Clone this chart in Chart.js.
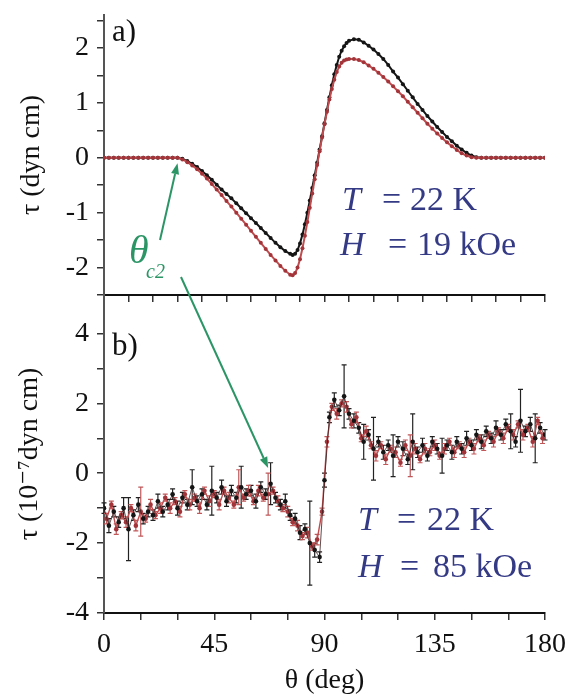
<!DOCTYPE html>
<html>
<head>
<meta charset="utf-8">
<script src="https://cdn.jsdelivr.net/npm/chart.js@4.4.1/dist/chart.umd.min.js"></script>
<style>
  body { margin: 0; background: #fff; }
  #wrap { position: relative; width: 568px; height: 700px; }
  canvas { position: absolute; left: 0; top: 0; }
</style>
</head>
<body>
<div id="wrap">
  <canvas id="topChart" width="568" height="700"></canvas>
  <canvas id="bottomChart" width="568" height="700"></canvas>
</div>
<script>
const serif = '"Liberation Serif", "DejaVu Serif", serif';
Chart.defaults.font.family = serif;
Chart.defaults.color = '#111';

// ---- panel a) : torque at 19 kOe ----
const topTheta = [0, 2, 4, 6, 8, 10, 12, 14, 16, 18, 20, 22, 24, 26, 28, 30,
  32, 34, 36, 38, 40, 42, 44, 46, 48, 50, 52, 54, 56, 58, 60, 62, 64, 66, 68, 70, 72, 74, 76,
  77, 78, 79, 80, 81, 82, 83, 84, 85, 86, 87, 88, 89, 90, 91, 92, 93, 94, 95, 96, 97, 98, 99, 100,
  102, 104, 106, 108, 110, 112, 114, 116, 118, 120, 122, 124, 126, 128, 130, 132, 134, 136, 138, 140,
  142, 144, 146, 148, 150, 152, 154, 156, 158, 160, 162, 164, 166, 168, 170, 172, 174, 176, 178, 180];
const topBlack = [0, 0, 0, 0, 0, 0, 0, 0, 0, 0, 0, 0, 0, 0, 0, 0,
  -0.02, -0.06, -0.11, -0.17, -0.24, -0.32, -0.40, -0.49, -0.58, -0.66, -0.74, -0.83, -0.92, -1.01, -1.10, -1.19, -1.28, -1.37, -1.46, -1.55, -1.63, -1.70, -1.75,
  -1.77, -1.75, -1.68, -1.56, -1.40, -1.21, -1.00, -0.78, -0.55, -0.32, -0.09, 0.15, 0.39, 0.63, 0.87, 1.10, 1.32, 1.52, 1.69, 1.84, 1.95, 2.03, 2.09, 2.13,
  2.16, 2.15, 2.10, 2.04, 1.97, 1.89, 1.80, 1.69, 1.57, 1.46, 1.34, 1.22, 1.10, 0.98, 0.87, 0.76, 0.66, 0.56, 0.47, 0.38,
  0.30, 0.22, 0.15, 0.09, 0.04, 0.01, 0, 0, 0, 0, 0, 0, 0, 0, 0, 0, 0, 0, 0, 0];
const topRed = [0, 0, 0, 0, 0, 0, 0, 0, 0, 0, 0, 0, 0, 0, 0, 0,
  -0.03, -0.08, -0.14, -0.21, -0.29, -0.38, -0.48, -0.58, -0.68, -0.79, -0.89, -1.00, -1.11, -1.22, -1.33, -1.44, -1.55, -1.66, -1.77, -1.87, -1.97, -2.06, -2.13,
  -2.14, -2.10, -2.00, -1.85, -1.65, -1.42, -1.17, -0.91, -0.65, -0.39, -0.13, 0.12, 0.37, 0.61, 0.84, 1.06, 1.25, 1.42, 1.56, 1.66, 1.73, 1.77, 1.79, 1.80,
  1.80, 1.78, 1.74, 1.68, 1.62, 1.55, 1.47, 1.39, 1.30, 1.21, 1.12, 1.02, 0.92, 0.82, 0.72, 0.62, 0.53, 0.44, 0.36, 0.28,
  0.21, 0.14, 0.08, 0.04, 0.01, 0, 0, 0, 0, 0, 0, 0, 0, 0, 0, 0, 0, 0, 0, 0];

// ---- panel b) : torque at 85 kOe (10^-7 dyn cm) ----
const botThetaBlack = [0, 2, 4, 6, 8, 10, 12, 14, 16, 18, 20, 22, 24, 26, 28, 30, 32, 34, 36, 38,
  40, 42, 44, 46, 48, 50, 52, 54, 56, 58, 60, 62, 64, 66, 68, 70, 72, 74, 76, 78,
  80, 82, 84, 86, 88, 90, 92, 94, 96, 98, 100, 102, 104, 106, 108, 110, 112, 114, 116, 118,
  120, 122, 124, 126, 128, 130, 132, 134, 136, 138, 140, 142, 144, 146, 148, 150, 152, 154, 156, 158,
  160, 162, 164, 166, 168, 170, 172, 174, 176, 178, 180];
const botBlack = [-1.0, -1.5, -1.1, -1.4, -1.0, -1.6, -1.2, -0.9, -1.3, -1.1,
  -1.2, -0.8, -1.1, -0.9, -0.6, -1.0, -0.7, -0.9, -0.4, -0.8,
  -0.6, -0.9, -0.5, -0.7, -0.4, -0.8, -0.5, -0.7, -0.4, -0.6,
  -0.5, -0.8, -0.4, -0.6, -0.3, -0.7, -0.9, -0.8, -1.2, -1.3,
  -1.7, -1.6, -2.0, -2.2, -2.4, -0.2, 1.6, 2.1, 1.8, 2.2,
  1.7, 1.5, 1.3, 0.9, 1.1, 0.7, 0.9, 0.6, 0.8, 0.5,
  0.9, 0.7, 0.4, 0.9, 0.6, 0.8, 0.5, 0.9, 0.7, 0.5,
  0.8, 0.6, 0.9, 0.7, 1.0, 0.8, 1.1, 0.9, 1.2, 1.0,
  1.3, 1.1, 1.4, 1.2, 0.9, 1.5, 1.2, 1.4, 1.0, 1.3, 1.1];
const botBlackErr = [0.15, 0.2, 0.15, 0.15, 0.3, 0.9, 0.15, 0.2, 0.15, 0.15,
  0.15, 0.2, 0.15, 0.15, 0.15, 0.2, 0.15, 0.15, 0.5, 0.15,
  0.15, 0.15, 0.7, 0.15, 0.2, 0.15, 0.15, 0.15, 0.6, 0.15,
  0.15, 0.2, 0.15, 0.15, 0.6, 0.15, 0.15, 0.2, 0.15, 0.15,
  0.2, 0.15, 1.2, 0.2, 0.15, 0.2, 0.15, 0.2, 0.15, 0.9,
  0.15, 0.2, 0.15, 0.5, 0.15, 0.9, 0.15, 0.2, 0.15, 0.6,
  0.15, 0.2, 0.15, 0.8, 0.15, 0.2, 0.15, 0.15, 0.15, 0.5,
  0.15, 0.2, 0.15, 0.15, 0.2, 0.15, 0.15, 0.2, 0.15, 0.15,
  0.2, 0.15, 0.15, 0.5, 0.15, 0.9, 0.15, 0.2, 0.7, 0.15, 0.15];
const botThetaRed = [1, 3, 5, 7, 9, 11, 13, 15, 17, 19, 21, 23, 25, 27, 29, 31, 33, 35, 37, 39,
  41, 43, 45, 47, 49, 51, 53, 55, 57, 59, 61, 63, 65, 67, 69, 71, 73, 75, 77, 79,
  81, 83, 85, 87, 89, 91, 93, 95, 97, 99, 101, 103, 105, 107, 109, 111, 113, 115, 117, 119,
  121, 123, 125, 127, 129, 131, 133, 135, 137, 139, 141, 143, 145, 147, 149, 151, 153, 155, 157, 159,
  161, 163, 165, 167, 169, 171, 173, 175, 177, 179];
const botRed = [-1.3, -0.9, -1.6, -1.2, -1.4, -1.0, -1.5, -1.1, -1.3, -0.9,
  -1.2, -1.0, -0.7, -1.0, -0.8, -1.1, -0.6, -0.9, -0.7, -1.0,
  -0.5, -0.8, -0.6, -0.9, -0.5, -0.7, -0.9, -0.4, -0.7, -0.5,
  -0.8, -0.5, -0.7, -0.6, -0.5, -0.8, -1.0, -1.1, -1.4, -1.5,
  -1.8, -1.7, -2.1, -1.9, -1.1, 0.9, 1.9, 1.7, 2.0, 1.9,
  1.4, 1.6, 1.0, 1.2, 0.8, 0.5, 0.8, 0.4, 0.7, 0.6,
  0.3, 0.8, 0.5, 0.7, 0.4, 0.7, 0.6, 0.8, 0.5, 0.7,
  0.9, 0.6, 0.8, 0.6, 0.9, 0.7, 1.0, 0.8, 1.1, 0.9,
  1.2, 1.0, 1.3, 1.1, 1.4, 1.1, 1.3, 0.9, 1.5, 1.0];
const botRedErr = [0.15, 0.1, 0.15, 0.1, 0.15, 0.1, 0.15, 0.7, 0.1, 0.15,
  0.1, 0.15, 0.1, 0.15, 0.1, 0.15, 0.1, 0.15, 0.1, 0.15,
  0.1, 0.15, 0.1, 0.15, 0.1, 0.15, 0.1, 0.5, 0.1, 0.15,
  0.1, 0.15, 0.1, 0.6, 0.1, 0.15, 0.1, 0.15, 0.1, 0.15,
  0.1, 0.15, 0.1, 0.15, 0.1, 0.15, 0.1, 0.15, 0.1, 0.15,
  0.1, 0.15, 0.1, 0.15, 0.1, 0.15, 0.1, 0.15, 0.1, 0.15,
  0.1, 0.15, 0.6, 0.15, 0.1, 0.15, 0.1, 0.15, 0.1, 0.15,
  0.1, 0.15, 0.1, 0.15, 0.1, 0.15, 0.1, 0.15, 0.1, 0.15,
  0.1, 0.15, 0.1, 0.15, 0.1, 0.15, 0.1, 0.15, 0.1, 0.15];

// ---- axis ticks ----
const topXTicks = [0, 10, 20, 30, 40, 50, 60, 70, 80, 90, 100, 110, 120, 130, 140, 150, 160, 170, 180];
const topYTicks = [-2.5, -2, -1.5, -1, -0.5, 0, 0.5, 1, 1.5, 2, 2.5];
const botXTicks = [0, 15, 30, 45, 60, 75, 90, 105, 120, 135, 150, 165, 180];
const botXLabels = [0, 45, 90, 135, 180];
const botYTicks = [-4, -3, -2, -1, 0, 1, 2, 3, 4];

const toPoints = (xs, ys) => xs.map((x, i) => ({ x: x, y: ys[i] }));
const fixWidth = w => s => { s.width = w; s.paddingTop = 0; s.paddingBottom = 0; };
const fixHeight = h => s => { s.height = h; s.paddingLeft = 0; s.paddingRight = 0; };
const setTicks = vals => s => { s.ticks = vals.map(v => ({ value: v })); };

const redDot = '#a3353a';
const redLine = '#bf4d4f';
const blackDot = '#151515';
const noteBlue = '#353a85';
const noteGreen = '#2c9566';

const tickGrid = { drawOnChartArea: false, tickLength: 7, color: '#333', lineWidth: 1.5 };

// vertical error bars, drawn under the points
const errorBars = {
  id: 'errorBars',
  beforeDatasetsDraw(chart) {
    const ctx = chart.ctx;
    const yScale = chart.scales.y;
    chart.data.datasets.forEach((ds, i) => {
      if (!ds.errors) return;
      const meta = chart.getDatasetMeta(i);
      ctx.save();
      ctx.strokeStyle = ds.errorColor;
      ctx.lineWidth = 1.2;
      ctx.beginPath();
      meta.data.forEach((pt, j) => {
        const v = ds.data[j].y;
        const e = ds.errors[j];
        const yTop = yScale.getPixelForValue(v + e);
        const yBot = yScale.getPixelForValue(v - e);
        ctx.moveTo(pt.x, yTop); ctx.lineTo(pt.x, yBot);
        ctx.moveTo(pt.x - 2.5, yTop); ctx.lineTo(pt.x + 2.5, yTop);
        ctx.moveTo(pt.x - 2.5, yBot); ctx.lineTo(pt.x + 2.5, yBot);
      });
      ctx.stroke();
      ctx.restore();
    });
  }
};

function arrow(ctx, x0, y0, x1, y1) {
  const a = Math.atan2(y1 - y0, x1 - x0);
  const len = 11, half = 4;
  const c = Math.cos(a), s = Math.sin(a);
  ctx.beginPath();
  ctx.moveTo(x0, y0);
  ctx.lineTo(x1 - len * c, y1 - len * s);
  ctx.stroke();
  ctx.beginPath();
  ctx.moveTo(x1, y1);
  ctx.lineTo(x1 - len * c + half * s, y1 - len * s - half * c);
  ctx.lineTo(x1 - len * c - half * s, y1 - len * s + half * c);
  ctx.closePath();
  ctx.fill();
}

function paramLine(ctx, x, y, sym, val, eqOff, valOff) {
  ctx.font = 'italic 34px ' + serif;
  ctx.fillText(sym, x, y);
  ctx.font = '34px ' + serif;
  ctx.fillText('=', x + eqOff, y);
  ctx.fillText(val, x + valOff, y);
}

const topChart = new Chart(document.getElementById('topChart'), {
  type: 'scatter',
  data: {
    datasets: [
      { data: toPoints(topTheta, topRed), showLine: true, borderColor: redLine, borderWidth: 2,
        pointRadius: 2, pointBackgroundColor: redDot, pointBorderWidth: 0 },
      { data: toPoints(topTheta, topBlack), showLine: true, borderColor: blackDot, borderWidth: 2,
        pointRadius: 2, pointBackgroundColor: blackDot, pointBorderWidth: 0 }
    ]
  },
  options: {
    responsive: false,
    animation: false,
    devicePixelRatio: 1,
    layout: { padding: { left: 0, right: 23, top: 15, bottom: 395 } },
    plugins: { legend: { display: false }, tooltip: { enabled: false } },
    scales: {
      x: {
        min: 0, max: 180,
        afterBuildTicks: setTicks(topXTicks),
        afterFit: fixHeight(10),
        ticks: { display: false, autoSkip: false },
        grid: tickGrid,
        border: { color: '#111', width: 2 }
      },
      y: {
        min: -2.5, max: 2.6,
        afterBuildTicks: setTicks(topYTicks),
        afterFit: fixWidth(104),
        ticks: { autoSkip: false, padding: 8, font: { size: 28 },
          callback: v => Number.isInteger(v) ? String(v) : '' },
        grid: tickGrid,
        border: { color: '#555', width: 2 },
        title: { display: true, text: 'τ (dyn cm)', font: { size: 28 }, padding: { top: 15 } }
      }
    }
  }
});

// panel letters, parameters, theta_c2 label and arrows
const notes = {
  id: 'notes',
  afterDraw(chart) {
    const ctx = chart.ctx;
    const xa = topChart.scales.x, ya = topChart.scales.y;
    const xb = chart.scales.x, yb = chart.scales.y;
    ctx.save();
    ctx.textBaseline = 'alphabetic';
    ctx.fillStyle = '#111';
    ctx.font = '31px ' + serif;
    ctx.fillText('a)', 112, 41);
    ctx.fillText('b)', 112, 355);

    ctx.fillStyle = noteBlue;
    paramLine(ctx, 342, 210, 'T', '22 K', 40, 68);
    paramLine(ctx, 340, 255, 'H', '19 kOe', 48, 77);
    paramLine(ctx, 358, 530, 'T', '22 K', 39, 69);
    paramLine(ctx, 358, 577, 'H', '85 kOe', 42, 75);

    ctx.fillStyle = noteGreen;
    ctx.font = 'italic 40px ' + serif;
    ctx.fillText('θ', 129, 263);
    ctx.font = 'italic 20px ' + serif;
    ctx.fillText('c2', 146, 278);

    ctx.strokeStyle = noteGreen;
    ctx.lineWidth = 2;
    arrow(ctx, 160, 240, xa.getPixelForValue(30), ya.getPixelForValue(-0.1));
    arrow(ctx, 181, 277, xb.getPixelForValue(67), yb.getPixelForValue(0.15));
    ctx.restore();
  }
};

const bottomChart = new Chart(document.getElementById('bottomChart'), {
  type: 'scatter',
  data: {
    datasets: [
      { data: toPoints(botThetaBlack, botBlack), errors: botBlackErr, errorColor: '#222',
        showLine: true, borderColor: '#3a2020', borderWidth: 0.8,
        pointRadius: 2.3, pointBackgroundColor: blackDot, pointBorderWidth: 0 },
      { data: toPoints(botThetaRed, botRed), errors: botRedErr, errorColor: '#c0585a',
        showLine: true, borderColor: redLine, borderWidth: 1.4,
        pointRadius: 2.3, pointBackgroundColor: redDot, pointBorderWidth: 0 }
    ]
  },
  options: {
    responsive: false,
    animation: false,
    devicePixelRatio: 1,
    layout: { padding: { left: 0, right: 23, top: 295, bottom: 0 } },
    plugins: { legend: { display: false }, tooltip: { enabled: false } },
    scales: {
      x: {
        min: 0, max: 180,
        afterBuildTicks: setTicks(botXTicks),
        afterFit: fixHeight(87),
        ticks: { autoSkip: false, maxRotation: 0, padding: 8, font: { size: 28 },
          callback: v => botXLabels.includes(v) ? String(v) : '' },
        grid: tickGrid,
        border: { color: '#111', width: 2 },
        title: { display: true, text: 'θ (deg)', font: { size: 28 }, padding: { bottom: 3 } }
      },
      y: {
        min: -4, max: 5.1,
        afterBuildTicks: setTicks(botYTicks),
        afterFit: fixWidth(104),
        ticks: { autoSkip: false, padding: 8, font: { size: 28 },
          callback: v => v % 2 === 0 ? String(v) : '' },
        grid: tickGrid,
        border: { color: '#555', width: 2 },
        title: { display: true, text: 'τ (10⁻⁷dyn cm)', font: { size: 28 }, padding: { top: 13 } }
      }
    }
  },
  plugins: [errorBars, notes]
});
</script>
</body>
</html>
